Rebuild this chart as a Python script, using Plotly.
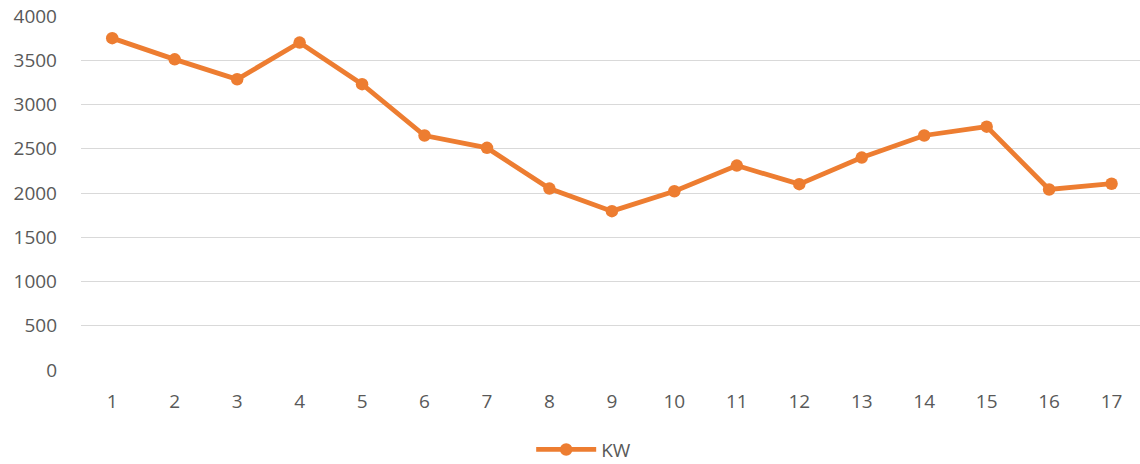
import plotly.graph_objects as go

categories = list(range(1, 18))
kw_values = [3750, 3510, 3285, 3700, 3230, 2650, 2510, 2050, 1795, 2020, 2310, 2100, 2400, 2650, 2750, 2040, 2105]
y_ticks = [0, 500, 1000, 1500, 2000, 2500, 3000, 3500, 4000]

fig = go.Figure()
fig.add_trace(go.Scatter(
    x=categories, y=kw_values, name="KW", mode="lines+markers",
    line=dict(color="#ED7D31", width=4.8),
    marker=dict(color="#ED7D31", size=12.5),
))

font = "'Open Sans', 'Noto Sans', 'DejaVu Sans', sans-serif"
fig.update_layout(
    width=1140, height=464,
    margin=dict(l=81, r=0, t=16, b=94, autoexpand=False),
    paper_bgcolor="white", plot_bgcolor="white",
    font=dict(family=font, size=19, color="#595959"),
    showlegend=True,
    legend=dict(orientation="h", xref="container", yref="container",
                x=0.512, xanchor="center", y=0.031, yanchor="middle",
                itemwidth=60, font=dict(size=19, color="#595959")),
    xaxis=dict(range=[0.5, 17.455], tickmode="array", tickvals=categories,
               ticktext=[str(c) for c in categories], showgrid=False, zeroline=False,
               showline=False, ticks="", ticklabelstandoff=18, automargin=False,
               ticklabeloverflow="allow"),
    yaxis=dict(range=[0, 4000], tickmode="array", tickvals=y_ticks,
               showgrid=True, gridcolor="#D9D9D9", gridwidth=1.3, zeroline=False,
               showline=False, ticks="", ticklabelstandoff=23, automargin=False,
               ticklabeloverflow="allow"),
)

fig.write_html("out.html", config={"displayModeBar": False},
               post_script="document.body.style.margin='0';")
